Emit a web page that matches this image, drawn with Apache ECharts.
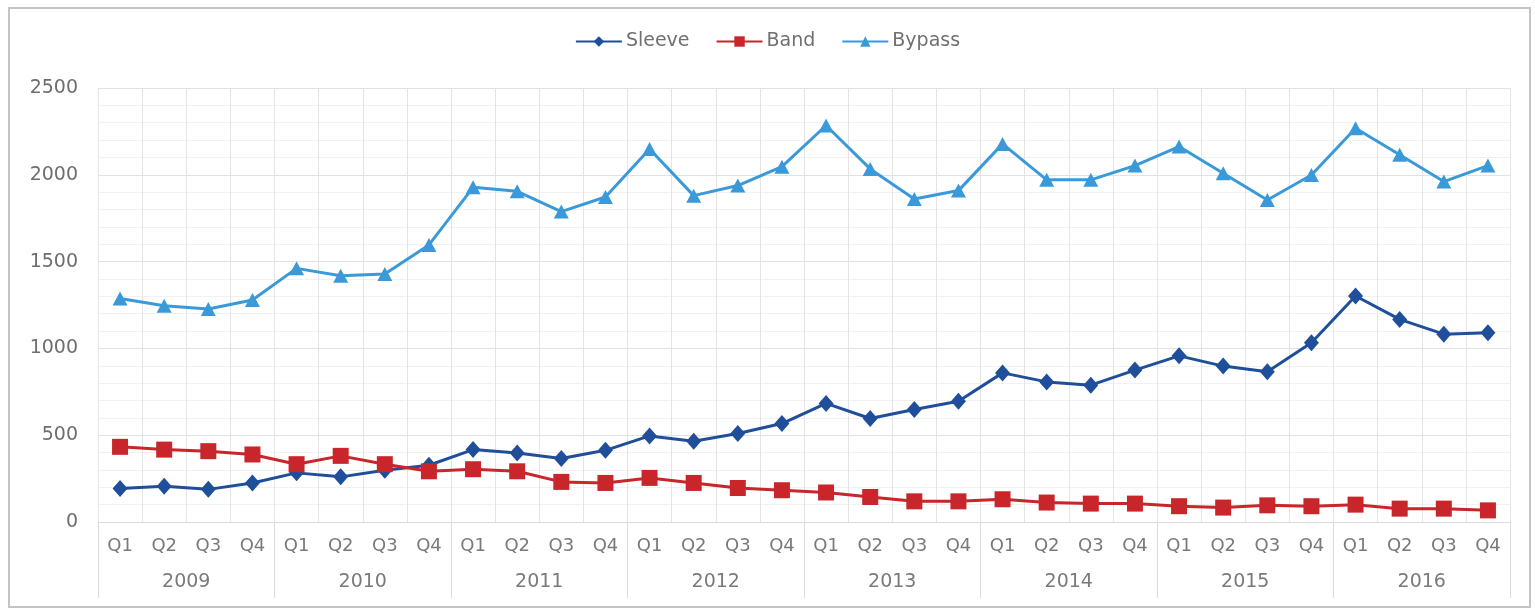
<!DOCTYPE html>
<html>
<head>
<meta charset="utf-8">
<title>Sleeve, Band and Bypass procedures by quarter</title>
<script src="https://cdn.jsdelivr.net/npm/echarts@6/dist/echarts.min.js"></script>
<style>
  html, body { margin: 0; padding: 0; background: #ffffff; }
  #chart { width: 1535px; height: 610px; }
</style>
</head>
<body>
<div id="chart"></div>
<script>
// Quarter and year labels
const quarters = ['Q1', 'Q2', 'Q3', 'Q4'];
const years = ['2009', '2010', '2011', '2012', '2013', '2014', '2015', '2016'];

// Quarterly counts per procedure, 2009 Q1 .. 2016 Q4
const sleeve = [193, 206, 188, 225, 283, 260, 298, 327,
                417, 398, 366, 413, 496, 465, 510, 567,
                683, 596, 648, 696, 859, 807, 788, 875,
                957, 898, 865, 1032, 1302, 1167, 1082, 1090];
const band = [433, 417, 408, 389, 333, 381, 333, 292,
              304, 292, 231, 225, 254, 225, 196, 183,
              170, 144, 119, 119, 131, 112, 106, 106,
              91, 83, 96, 91, 100, 77, 77, 67];
const bypass = [1288, 1246, 1227, 1279, 1461, 1419, 1428, 1596,
                1928, 1905, 1788, 1872, 2149, 1880, 1938, 2047,
                2284, 2034, 1861, 1909, 2178, 1971, 1971, 2053,
                2163, 2009, 1855, 1999, 2268, 2115, 1961, 2053];

// Y-axis range and step
const yMin = 0, yMax = 2500, yStep = 500;

// One Q label per quarter across all years
const quarterCats = [];
years.forEach(() => quarters.forEach(q => quarterCats.push(q)));

const FONT = 'DejaVu Sans';
const TEXT = '#7a7a7a';

const chart = echarts.init(document.getElementById('chart'), null, { renderer: 'canvas' });

function lineSeries(name, data, color, symbol, size) {
  return {
    name: name,
    type: 'line',
    data: data,
    xAxisIndex: 0,
    symbol: symbol,
    symbolSize: size,
    lineStyle: { color: color, width: 3 },
    itemStyle: { color: color },
    emphasis: { disabled: true },
    animation: false
  };
}

chart.setOption({
  animation: false,
  backgroundColor: '#ffffff',
  textStyle: { fontFamily: FONT },
  graphic: [{
    type: 'rect',
    shape: { x: 9, y: 8, width: 1521, height: 599 },
    style: { fill: 'none', stroke: '#c4c4c4', lineWidth: 2 },
    silent: true,
    z: -10
  }],
  legend: {
    top: 27,
    left: 'center',
    itemWidth: 46,
    itemHeight: 13,
    itemGap: 26,
    textStyle: { fontFamily: FONT, fontSize: 19, color: '#707070', padding: [0, 0, 0, -1] },
    data: ['Sleeve', 'Band', 'Bypass']
  },
  grid: { left: 98, right: 25, top: 88, bottom: 88, containLabel: false },
  xAxis: [
    {
      type: 'category',
      data: quarterCats,
      boundaryGap: true,
      axisLine: { show: true, lineStyle: { color: '#dcdcdc', width: 1 } },
      axisTick: { show: false },
      axisLabel: { interval: 0, margin: 15, fontFamily: FONT, fontSize: 18, color: TEXT },
      splitLine: { show: true, interval: 0, lineStyle: { color: '#e4e4e4', width: 1 } }
    },
    {
      type: 'category',
      data: years,
      position: 'bottom',
      boundaryGap: true,
      axisLine: { show: false },
      axisTick: { show: true, interval: 0, length: 76, lineStyle: { color: '#dcdcdc', width: 1 } },
      axisLabel: { interval: 0, margin: 51, fontFamily: FONT, fontSize: 19, color: TEXT },
      splitLine: { show: false }
    }
  ],
  yAxis: {
    type: 'value',
    min: yMin,
    max: yMax,
    interval: yStep,
    axisLine: { show: false },
    axisTick: { show: false },
    axisLabel: {
      margin: 20, fontFamily: FONT, fontSize: 19, color: '#6e6e6e',
      formatter: v => String(v)
    },
    splitLine: { show: true, lineStyle: { color: '#e2e2e2', width: 1 } },
    minorTick: { show: false, splitNumber: 5 },
    minorSplitLine: { show: true, lineStyle: { color: '#f1f1f1', width: 1 } }
  },
  series: [
    lineSeries('Sleeve', sleeve, '#1f4e9b', 'diamond', [15, 17]),
    lineSeries('Band', band, '#c8262b', 'rect', 16),
    lineSeries('Bypass', bypass, '#3a9ad9', 'triangle', [15, 14])
  ]
});
</script>
</body>
</html>
